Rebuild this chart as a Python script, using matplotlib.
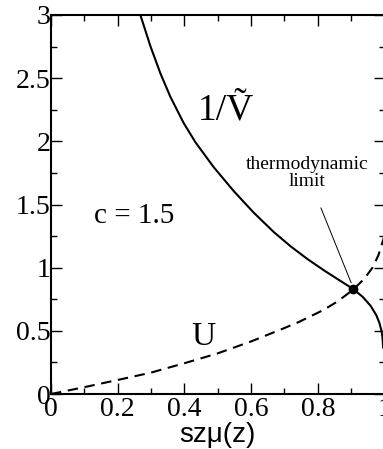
import matplotlib
matplotlib.use("Agg")
import matplotlib.pyplot as plt
from matplotlib.ticker import MultipleLocator

# Data
v_x = [0.268, 0.298, 0.328, 0.358, 0.398, 0.433, 0.488, 0.548, 0.608, 0.668, 0.718,
       0.768, 0.82, 0.865, 0.907, 0.935, 0.958, 0.975, 0.985, 0.991, 0.994, 0.9955, 0.996]
v_y = [3.0, 2.754, 2.538, 2.352, 2.144, 1.993, 1.795, 1.606, 1.435, 1.282, 1.17,
       1.07, 0.976, 0.90, 0.829, 0.768, 0.699, 0.626, 0.561, 0.50, 0.446, 0.386, 0.36]

u_x = [0.0, 0.098, 0.198, 0.298, 0.398, 0.498, 0.598, 0.698, 0.743, 0.817, 0.86,
       0.907, 0.94, 0.964, 0.982, 1.0]
u_y = [0.0, 0.053, 0.11, 0.168, 0.242, 0.32, 0.414, 0.52, 0.57, 0.665, 0.734,
       0.828, 0.914, 1.0, 1.10, 1.253]

point_x = [0.907]
point_y = [0.829]

x_ticks = [0, 0.2, 0.4, 0.6, 0.8, 1]
x_labels = ["0", "0.2", "0.4", "0.6", "0.8", "1"]
y_ticks = [0, 0.5, 1, 1.5, 2, 2.5, 3]
y_labels = ["0", "0.5", "1", "1.5", "2", "2.5", "3"]

serif = ["Liberation Serif", "DejaVu Serif"]
sans = ["Liberation Sans", "DejaVu Sans"]

fig = plt.figure(figsize=(3.83, 4.49), dpi=100)
ax = fig.add_axes([51 / 383, 1 - 394 / 449, 333.5 / 383, (394 - 15) / 449])

ax.plot(v_x, v_y, color="black", lw=1.5, solid_capstyle="butt", solid_joinstyle="round")
ax.plot(u_x, u_y, color="black", lw=1.5, dashes=(5, 3.2))
ax.plot(point_x, point_y, "o", color="black", ms=6)

ax.annotate("thermodynamic\nlimit", xy=(0.9, 0.88), xytext=(0.767, 1.75),
            ha="center", va="center", fontsize=14, family=serif, linespacing=0.95,
            arrowprops=dict(arrowstyle="-", color="black", lw=0.7, shrinkA=12, shrinkB=0))

ax.text(0.525, 2.245, "1/Ṽ", ha="center", va="center", fontsize=27, family=serif)
ax.text(0.25, 1.41, "c = 1.5", ha="center", va="center", fontsize=21, family=serif)
ax.text(0.457, 0.45, "U", ha="center", va="center", fontsize=24, family=serif)

ax.set_xlim(0, 1)
ax.set_ylim(0, 3)
ax.set_xticks(x_ticks)
ax.set_xticklabels(x_labels, family=serif, fontsize=20)
ax.set_yticks(y_ticks)
ax.set_yticklabels(y_labels, family=serif, fontsize=20)
ax.xaxis.set_minor_locator(MultipleLocator(0.1))
ax.yaxis.set_minor_locator(MultipleLocator(0.25))
ax.tick_params(which="both", direction="in", top=True, right=True, width=1.0, color="black")
ax.tick_params(which="major", length=8)
ax.tick_params(which="minor", length=4.5)
ax.tick_params(axis="x", which="major", pad=2)
ax.tick_params(axis="y", which="major", pad=0.5)

for s in ax.spines.values():
    s.set_linewidth(1.5)

ax.set_xlabel("szμ(z)", family=sans, fontsize=20, labelpad=0)

fig.savefig("out.png", dpi=100)
